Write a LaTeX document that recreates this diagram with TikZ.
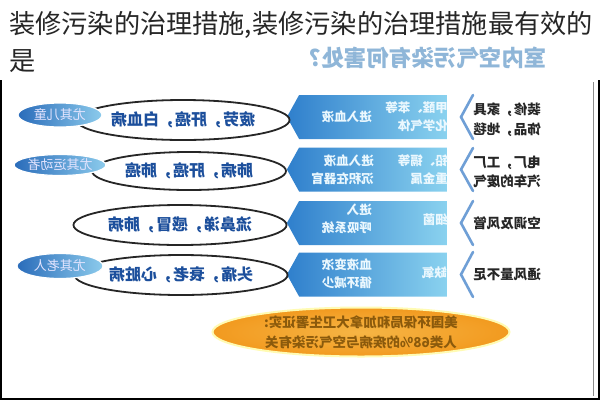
\documentclass[tikz,border=0pt]{standalone}
\usepackage{fontspec}
\setmainfont{Noto Sans CJK SC}
\usetikzlibrary{shapes.geometric,shapes.symbols}
\definecolor{headblue}{HTML}{8FB6D8}
\definecolor{boxdark}{HTML}{2F7FCC}
\definecolor{boxlight}{HTML}{8AD2EF}
\definecolor{tagdark}{HTML}{2A6CBA}
\definecolor{taglight}{HTML}{8CCBEC}
\definecolor{illtext}{HTML}{1C4F9C}
\definecolor{chevblue}{HTML}{6F9FD6}
\definecolor{orangedark}{HTML}{F29A1F}
\definecolor{orangelight}{HTML}{F6B545}
\definecolor{orangetext}{HTML}{8B5A0C}
\newcommand\flip[1]{\scalebox{-1}[1]{#1}}
\newcommand\two[2]{\flip{\shortstack[l]{#1\\[3pt]#2}}}
\newcommand\px[1]{\fontsize{#1}{#1}\selectfont}
\begin{document}
\begin{tikzpicture}[x=1pt, y=-1pt,
  box/.style={signal, signal to=west, signal pointer angle=122, minimum width=160, minimum height=44, inner sep=0pt, left color=boxdark, right color=boxlight},
  boxtext/.style={anchor=east, text=white!92!cyan, font=\px{12.5}\bfseries, inner sep=0pt},
  ill/.style={ellipse, draw=black!85, line width=1.8pt, fill=white, minimum width=208, minimum height=40, text=illtext, font=\px{16}\bfseries},
  tag/.style={ellipse, draw=white, line width=1.2pt, left color=tagdark, right color=taglight, minimum width=84, minimum height=24, inner sep=0pt, text=white!90!blue, font=\px{13}},
  src/.style={text=black!85, font=\px{13.5}\bfseries, inner sep=0pt},
  chev/.style={draw=chevblue, line width=2.6pt, line cap=round, line join=miter}]
\useasboundingbox (0,0) rectangle (600,400);
\fill[white] (0,0) rectangle (600,400);
\draw[black!45, line width=0.8pt] (593,82) -- (593,396);
\draw[black, line width=2.5pt] (1,80) -- (1,399) -- (599,399) -- (599,80);

\node[anchor=west, font=\px{26.2}, text=black!85, inner sep=0pt] (title1) at (9,25) {装修污染的治理措施,装修污染的治理措施最有效的};
\node[anchor=west, font=\px{26.2}, text=black!85, inner sep=0pt] (title2) at (9,61) {是};
\node[text=headblue, font=\px{22.5}\bfseries, inner sep=0pt] (head) at (428,58) {\flip{室内空气污染有何害处?}};

\node[box] (box1) at (373,117) {};
\node[box] (box2) at (373,169.5) {};
\node[box] (box3) at (373,223) {};
\node[box] (box4) at (373,274.5) {};

\node[boxtext] (sub1) at (448,117) {\two{甲醛、苯等}{化学气体}};
\node[boxtext] (eff1) at (372,117) {\flip{进入血液}};
\node[boxtext] (sub2) at (448,169.5) {\two{铅、镉等}{重金属}};
\node[boxtext] (eff2) at (374,169.5) {\two{进入血液}{沉积在器官}};
\node[boxtext] (sub3) at (448,220) {\flip{细菌}};
\node[boxtext] (eff3) at (372,219) {\two{进入}{呼吸系统}};
\node[boxtext] (sub4) at (447,273) {\flip{缺氧}};
\node[boxtext] (eff4) at (372,274) {\two{血液变浓}{循环减少}};

\draw[chev] (473,95) -- (461,117) -- (473,139);
\draw[chev] (473,148) -- (461,169.5) -- (473,191);
\draw[chev] (473,201) -- (461,223) -- (473,245);
\draw[chev] (473,252) -- (461,274.5) -- (473,297);

\node[src] (src1) at (507,120) {\two{装修，家具}{饰品，地毯}};
\node[src] (src2) at (507,172) {\two{电厂，工厂}{汽车的废气}};
\node[src] (src3) at (507,223) {\flip{空调及风管}};
\node[src] (src4) at (507,275) {\flip{通风量不足}};

\node[ill, minimum width=206, minimum height=40] (ill1) at (183,120) {\flip{疲劳，肝癌，白血病}};
\node[ill, minimum width=194, minimum height=38] (ill2) at (189,171) {\flip{肺病，肝癌，肺癌}};
\node[ill, minimum width=210, minimum height=40] (ill3) at (180,225) {\flip{流鼻涕，感冒，肺病}};
\node[ill, minimum width=208, minimum height=40] (ill4) at (181,275) {\flip{头痛，衰老，心脏病}};

\node[tag] (tag1) at (60,115) {\flip{尤其儿童}};
\node[tag, minimum width=80, minimum height=21] (tag2) at (60,165) {\flip{尤其运动者}};
\node[tag, minimum width=86, minimum height=25] (tag3) at (60,266) {\flip{尤其老人}};

\node[ellipse, draw=yellow!30!white, line width=2pt, inner color=orangelight, outer color=orangedark, minimum width=297, minimum height=49, inner sep=0pt, text=orangetext, font=\px{13.5}\bfseries] (fact) at (361,332) {\flip{\shortstack{美国环保局和加拿大卫生署证实:\\[4pt]人类68\%的疾病与空气污染有关}}};
\end{tikzpicture}
\end{document}
